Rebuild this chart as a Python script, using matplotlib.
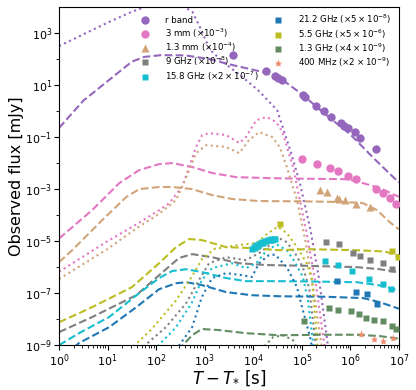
import numpy as np
import matplotlib.pyplot as plt

# log10(t [s]) and log10(flux [mJy]) (already scaled)

# r band
r_dash_t = [0, 0.5, 1.0, 1.3, 1.5, 1.75, 2.1, 2.6, 3.1, 3.5, 4.2, 4.55, 5.0, 5.5, 6.0, 6.5, 7.0]
r_dash_f = [-0.65, 0.4, 1.15, 1.6, 1.9, 2.08, 2.15, 2.14, 2.0, 1.8, 1.5, 1.27, 0.65, -0.15, -0.9, -1.85, -2.75]
r_dot_t = [0, 0.5, 1.0, 1.5, 1.8, 2.2, 2.55, 2.75, 2.9, 3.11, 3.4, 3.73, 4.1, 4.49, 4.76, 4.96, 5.17, 5.35, 5.55]
r_dot_f = [2.5, 2.95, 3.4, 3.82, 4.02, 4.12, 4.05, 3.8, 3.23, 2.35, 1.85, 1.38, 0.8, 0.04, -1.5, -2.77, -4.5, -6.4, -9.2]
r_obs_t = [3.58, 4.26, 4.45, 4.51, 4.59, 5.03, 5.07, 5.30, 5.46, 5.61, 5.80, 5.87, 5.95, 6.09, 6.20, 6.53]
r_obs_f = [2.15, 1.54, 1.35, 1.27, 1.19, 0.62, 0.54, 0.19, 0.01, -0.22, -0.45, -0.58, -0.67, -0.80, -1.05, -1.47]

# 3 mm (x1e-3)
mm3_dash_t = [0, 0.68, 1.24, 1.65, 2.06, 2.33, 2.74, 3.15, 3.64, 4.38, 5.0, 5.93, 6.26, 6.61, 7.0]
mm3_dash_f = [-4.9, -3.81, -2.77, -2.27, -2.04, -2.0, -2.15, -2.38, -2.54, -2.58, -2.6, -2.62, -2.77, -2.96, -3.3]
mm3_dot_t = [0, 1.0, 1.67, 2.06, 2.27, 2.53, 2.68, 2.82, 2.95, 3.09, 3.44, 3.71, 3.85, 4.06, 4.27, 4.47, 4.6, 4.82, 5.1, 5.3, 5.48]
mm3_dot_f = [-6.18, -5.0, -4.27, -3.81, -3.54, -2.92, -2.15, -1.38, -0.92, -0.85, -0.92, -1.23, -1.0, -0.35, -0.23, -0.42, -0.8, -2.15, -4.7, -6.8, -9.2]
mm3_obs_t = [5.0, 5.31, 5.58, 5.74, 5.95, 6.11, 6.53, 6.67, 6.81, 6.94]
mm3_obs_f = [-1.85, -2.04, -2.19, -2.31, -2.5, -2.62, -3.0, -3.15, -3.35, -3.58]

# 1.3 mm (x1e-4)
mm13_dash_t = [0, 0.27, 0.89, 1.38, 1.65, 2.06, 2.33, 2.74, 3.15, 3.56, 4.12, 5.0, 5.9, 6.26, 6.55, 6.81, 7.0]
mm13_dash_f = [-5.81, -5.35, -4.19, -3.31, -3.0, -2.92, -2.92, -3.0, -3.23, -3.38, -3.46, -3.47, -3.5, -3.54, -3.81, -4.27, -4.55]
mm13_dot_t = [0, 1.0, 1.6, 2.06, 2.41, 2.62, 2.82, 3.03, 3.44, 3.71, 3.91, 4.12, 4.39, 4.55, 4.69, 4.9, 5.07, 5.25, 5.42]
mm13_dot_f = [-6.46, -5.3, -4.5, -3.95, -3.42, -2.54, -1.62, -1.31, -1.38, -1.62, -1.12, -0.81, -1.0, -1.4, -2.15, -3.42, -4.96, -7.0, -9.2]
mm13_obs_t = [5.37, 5.52, 5.72, 5.77, 5.89, 6.11, 6.40]
mm13_obs_f = [-3.04, -3.12, -3.35, -3.38, -3.42, -3.58, -3.69]

# 9 GHz (x1e-8)
g9_dash_t = [0, 0.68, 1.59, 2.06, 2.47, 2.74, 3.15, 3.71, 4.27, 5.1, 6.13, 6.6, 7.0]
g9_dash_f = [-8.5, -7.92, -7.08, -6.31, -5.65, -5.5, -5.62, -5.85, -5.92, -5.95, -6.0, -6.08, -6.2]
g9_dot_t = [1.65, 2.2, 2.62, 2.88, 3.09, 3.44, 3.85, 4.12, 4.39, 4.49, 4.69, 4.86, 5.02, 5.15, 5.3]
g9_dot_f = [-9.2, -8.31, -7.38, -6.5, -5.85, -5.62, -5.73, -5.46, -5.08, -4.85, -5.04, -5.46, -6.0, -6.8, -9.2]
g9_obs_t = [5.5, 5.76, 6.05, 6.2, 6.4, 6.67, 6.86]
g9_obs_f = [-5.04, -5.12, -5.46, -5.58, -5.73, -5.85, -6.08]

# 15.8 GHz (x2e-7)
g158_dash_t = [0, 0.41, 1.03, 1.65, 2.06, 2.33, 2.62, 2.94, 3.44, 3.85, 4.53, 5.1, 6.13, 6.6, 7.0]
g158_dash_f = [-9.0, -8.54, -7.92, -7.0, -6.42, -6.15, -6.08, -6.19, -6.42, -6.54, -6.54, -6.55, -6.58, -6.7, -6.9]
g158_dot_t = [1.95, 2.41, 2.74, 2.94, 3.15, 3.56, 3.85, 4.06, 4.3, 4.5, 4.69, 4.86, 5.02, 5.12, 5.25]
g158_dot_f = [-9.2, -8.31, -7.35, -6.5, -6.04, -5.85, -6.04, -5.85, -5.3, -5.15, -5.35, -5.81, -6.38, -7.2, -9.2]
g158_obs_t = [3.98, 4.01, 4.04, 4.06, 4.09, 4.12, 4.15, 4.18, 4.21, 4.24, 4.27, 4.30, 4.33, 4.36, 4.39, 4.42, 4.45,
              5.48, 5.74, 6.03, 6.38, 6.67, 6.84]
g158_obs_f = [-5.30, -5.22, -5.25, -5.16, -5.18, -5.10, -5.09, -5.05, -5.06, -5.00, -5.01, -4.96, -4.97, -4.93, -4.95, -4.91, -4.90,
              -5.77, -5.92, -6.15, -6.44, -6.65, -6.85]

# 21.2 GHz (x5e-8)
g212_dash_t = [0.3, 0.41, 1.03, 1.59, 2.06, 2.41, 2.62, 2.94, 3.44, 3.97, 4.53, 5.5, 6.26, 6.61, 7.0]
g212_dash_f = [-9.1, -8.92, -8.31, -7.54, -6.85, -6.62, -6.58, -6.69, -6.96, -7.08, -7.12, -7.14, -7.19, -7.35, -7.6]
g212_dot_t = [2.4, 2.74, 2.94, 3.15, 3.44, 3.77, 3.97, 4.12, 4.32, 4.45, 4.69, 4.9, 5.02, 5.17, 5.22]
g212_dot_f = [-9.2, -8.31, -7.15, -6.42, -6.23, -6.31, -6.38, -5.85, -5.54, -5.52, -6.0, -6.77, -7.65, -8.69, -9.2]
g212_obs_t = [5.72, 6.11, 6.34, 6.55]
g212_obs_f = [-6.54, -6.96, -7.04, -7.42]

# 5.5 GHz (x5e-6)
g55_dash_t = [0, 0.68, 1.5, 2.06, 2.41, 2.68, 2.94, 3.44, 3.97, 4.53, 5.1, 6.13, 6.7, 7.0]
g55_dash_f = [-8.12, -7.54, -6.77, -5.85, -5.23, -4.92, -4.96, -5.23, -5.27, -5.35, -5.31, -5.35, -5.4, -5.55]
g55_dot_t = [1.45, 1.9, 2.4, 2.74, 2.94, 3.2, 3.7, 4.06, 4.3, 4.5, 4.69, 4.9, 5.1, 5.21, 5.33]
g55_dot_f = [-9.2, -8.4, -7.3, -6.35, -5.7, -5.3, -5.15, -5.08, -4.7, -4.45, -4.69, -5.23, -5.85, -6.5, -9.2]
g55_obs_t = [4.55, 6.86, 6.98]
g55_obs_f = [-4.35, -5.38, -5.62]

# 1.3 GHz (x4e-9)
g13_dash_t = [2.45, 2.74, 2.94, 3.29, 3.85, 4.53, 5.5, 6.13, 6.6, 7.0]
g13_dash_f = [-9.2, -8.62, -8.38, -8.42, -8.54, -8.62, -8.6, -8.6, -8.65, -8.75]
g13_dot_t = [4.15, 4.41, 4.61, 4.82, 4.92]
g13_dot_f = [-9.2, -8.69, -8.62, -8.81, -9.2]
g13_obs_t = [5.04, 5.56, 5.74, 6.01, 6.17, 6.32, 6.49, 6.67, 6.86, 6.94]
g13_obs_f = [-8.08, -7.58, -7.65, -7.69, -7.81, -7.96, -8.04, -8.08, -8.27, -8.38]

# 400 MHz (x2e-9)
m400_obs_t = [6.22, 6.49, 6.67, 6.88]
m400_obs_f = [-8.58, -8.77, -8.85, -8.73]

bands = [
    # label, colour, marker, size, dash, dot, obs
    ('r band', '#9467bd', 'o', 6, (r_dash_t, r_dash_f), (r_dot_t, r_dot_f), (r_obs_t, r_obs_f)),
    (r'3 mm ($\times10^{-3}$)', '#e377c2', 'o', 6, (mm3_dash_t, mm3_dash_f), (mm3_dot_t, mm3_dot_f), (mm3_obs_t, mm3_obs_f)),
    (r'1.3 mm ($\times10^{-4}$)', '#d1a47a', '^', 6, (mm13_dash_t, mm13_dash_f), (mm13_dot_t, mm13_dot_f), (mm13_obs_t, mm13_obs_f)),
    (r'9 GHz ($\times10^{-8}$)', '#7f7f7f', 's', 5, (g9_dash_t, g9_dash_f), (g9_dot_t, g9_dot_f), (g9_obs_t, g9_obs_f)),
    (r'15.8 GHz ($\times2\times10^{-7}$)', '#17becf', 's', 5, (g158_dash_t, g158_dash_f), (g158_dot_t, g158_dot_f), (g158_obs_t, g158_obs_f)),
    (r'21.2 GHz ($\times5\times10^{-8}$)', '#1f77b4', 's', 5, (g212_dash_t, g212_dash_f), (g212_dot_t, g212_dot_f), (g212_obs_t, g212_obs_f)),
    (r'5.5 GHz ($\times5\times10^{-6}$)', '#bcbd22', 's', 5, (g55_dash_t, g55_dash_f), (g55_dot_t, g55_dot_f), (g55_obs_t, g55_obs_f)),
    (r'1.3 GHz ($\times4\times10^{-9}$)', '#638c63', 's', 5, (g13_dash_t, g13_dash_f), (g13_dot_t, g13_dot_f), (g13_obs_t, g13_obs_f)),
    (r'400 MHz ($\times2\times10^{-9}$)', '#ef8c6c', '*', 6, None, None, (m400_obs_t, m400_obs_f)),
]

fig = plt.figure(figsize=(4.16, 3.9), dpi=100)
ax = fig.add_axes([0.142, 0.115, 0.817, 0.867])

for label, color, marker, ms, dash, dot, obs in bands:
    if dash is not None:
        ax.plot(10 ** np.array(dash[0]), 10 ** np.array(dash[1]), '--', color=color, lw=1.5, zorder=2)
    if dot is not None:
        ax.plot(10 ** np.array(dot[0]), 10 ** np.array(dot[1]), ':', color=color, lw=1.5, zorder=2)
    ax.plot(10 ** np.array(obs[0]), 10 ** np.array(obs[1]), linestyle='none', marker=marker,
            color=color, ms=ms, mec='none', label=label, zorder=3)

ax.set_xscale('log')
ax.set_yscale('log')
ax.set_xlim(1, 1e7)
ax.set_ylim(1e-9, 1e4)
ax.set_xticks([10.0 ** k for k in range(0, 8)])
ax.set_yticks([10.0 ** k for k in range(-9, 4, 2)])
ax.set_yticks([10.0 ** k for k in range(-8, 4, 2)], minor=True)
ax.yaxis.set_minor_formatter(plt.NullFormatter())
ax.tick_params(labelsize=8, pad=1.5)

ax.set_xlabel(r'$T-T_{*}$ [s]', fontsize=12)
ax.set_ylabel('Observed flux [mJy]', fontsize=11.5)
ax.yaxis.set_label_coords(-0.103, 0.5)
ax.xaxis.set_label_coords(0.5, -0.068)

ax.legend(ncol=2, loc='upper right', bbox_to_anchor=(1.0, 1.005), frameon=False, fontsize=6.2,
          handlelength=2.0, handletextpad=1.3, columnspacing=1.3, labelspacing=0.1)

fig.savefig('out.png', dpi=100)
